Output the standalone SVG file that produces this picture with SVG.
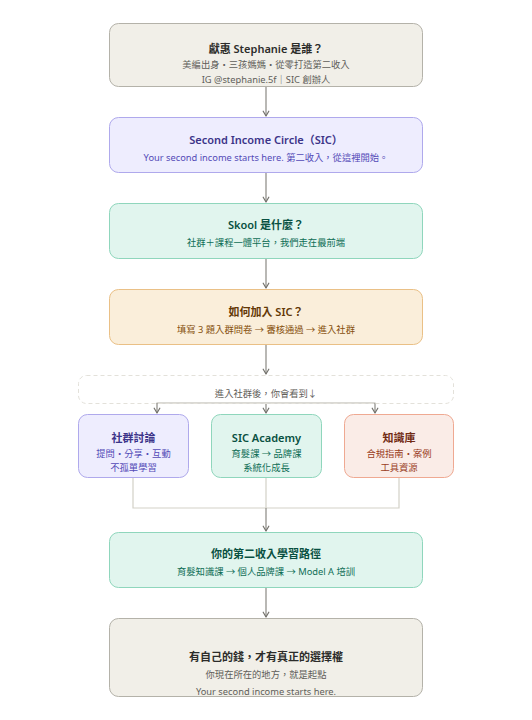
<svg xmlns="http://www.w3.org/2000/svg" width="532" height="720" viewBox="0 0 532 720">
<defs>
<marker id="arr" viewBox="0 0 10 10" refX="8" refY="5" markerWidth="8" markerHeight="8" orient="auto-start-reverse" markerUnits="userSpaceOnUse">
<path d="M2 1.5 L8 5 L2 8.5" fill="none" stroke="#73726c" stroke-width="1.5" stroke-linecap="round" stroke-linejoin="round"/>
</marker>
</defs>
<style>
text{font-family:"Noto Sans","Noto Sans CJK TC",sans-serif;text-anchor:middle;dominant-baseline:central}
.t{font-size:11px;font-weight:600}
.s{font-size:9.3px}
.gray rect{fill:#F1EFE8;stroke:#B4B2A9}
.gray .t{fill:#2C2C2A}.gray .s{fill:#5F5E5A}
.purple rect{fill:#EEEDFE;stroke:#AFA9EC}
.purple .t{fill:#3C3489}.purple .s{fill:#534AB7}
.teal rect{fill:#E1F5EE;stroke:#8FD6BC}
.teal .t{fill:#085041}.teal .s{fill:#0F6E56}
.amber rect{fill:#FAEEDA;stroke:#EAC086}
.amber .t{fill:#633806}.amber .s{fill:#854F0B}
.coral rect{fill:#FAECE7;stroke:#EFA992}
.coral .t{fill:#712B13}.coral .s{fill:#993C1D}
rect{stroke-width:1}
.c{stroke:#8a8983;stroke-width:1.2;fill:none}
.l{stroke:#D3D1C7;stroke-width:1.2;fill:none}
</style>
<rect width="532" height="720" fill="#ffffff"/>
<g id="connectors">
<line class="c" x1="266" y1="87" x2="266" y2="116" marker-end="url(#arr)"/>
<line class="c" x1="266" y1="172" x2="266" y2="202" marker-end="url(#arr)"/>
<line class="c" x1="266" y1="258" x2="266" y2="288" marker-end="url(#arr)"/>
<line class="c" x1="266" y1="344" x2="266" y2="374" marker-end="url(#arr)"/>
<line x1="156.5" y1="403" x2="375.5" y2="403" stroke="#B4B2A9" stroke-width="1"/>
<line class="c" x1="157" y1="403" x2="157" y2="413" marker-end="url(#arr)"/>
<line class="c" x1="266" y1="403" x2="266" y2="413" marker-end="url(#arr)"/>
<line class="c" x1="375" y1="403" x2="375" y2="413" marker-end="url(#arr)"/>
<path class="l" d="M133 477 V508 H399 V477 M266 477 V508"/>
<line class="c" x1="266" y1="508" x2="266" y2="531" marker-end="url(#arr)"/>
<line class="c" x1="266" y1="587" x2="266" y2="617" marker-end="url(#arr)"/>
</g>
<g id="who" class="gray">
<rect x="109.5" y="23.5" width="313" height="63" rx="9"/>
<text class="t" x="266" y="48">獻惠 Stephanie 是誰？</text>
<text class="s" x="266" y="64.5">美編出身・三孩媽媽・從零打造第二收入</text>
<text class="s" x="266" y="79.5">IG @stephanie.5f｜SIC 創辦人</text>
</g>
<g id="sic" class="purple">
<rect x="109.5" y="117.5" width="313" height="55" rx="9"/>
<text class="t" x="266" y="139">Second Income Circle（SIC）</text>
<text class="s" x="266" y="157">Your second income starts here. 第二收入，從這裡開始。</text>
</g>
<g id="skool" class="teal">
<rect x="109.5" y="203.5" width="313" height="55" rx="9"/>
<text class="t" x="266" y="224.5">Skool 是什麼？</text>
<text class="s" x="266" y="242.5">社群＋課程一體平台，我們走在最前端</text>
</g>
<g id="join" class="amber">
<rect x="109.5" y="289.5" width="313" height="55" rx="9"/>
<text class="t" x="266" y="311">如何加入 SIC？</text>
<text class="s" x="266" y="329">填寫 3 題入群問卷 → 審核通過 → 進入社群</text>
</g>
<g id="inside">
<rect x="78.5" y="375.5" width="375" height="28" rx="8" fill="none" stroke="#E3E1DA" stroke-dasharray="4 3"/>
<text class="s" x="266" y="393" fill="#5F5E5A">進入社群後，你會看到↓</text>
</g>
<g id="discuss" class="purple">
<rect x="78.5" y="414.5" width="110" height="63" rx="9"/>
<text class="t" x="133.5" y="437">社群討論</text>
<text class="s" x="133.5" y="453">提問・分享・互動</text>
<text class="s" x="133.5" y="467.5">不孤單學習</text>
</g>
<g id="academy" class="teal">
<rect x="211.5" y="414.5" width="110" height="63" rx="9"/>
<text class="t" x="266.5" y="437">SIC Academy</text>
<text class="s" x="266.5" y="453">育髮課 → 品牌課</text>
<text class="s" x="266.5" y="467.5">系統化成長</text>
</g>
<g id="library" class="coral">
<rect x="344.5" y="414.5" width="109" height="63" rx="9"/>
<text class="t" x="399" y="437">知識庫</text>
<text class="s" x="399" y="453">合規指南・案例</text>
<text class="s" x="399" y="467.5">工具資源</text>
</g>
<g id="path" class="teal">
<rect x="109.5" y="532.5" width="313" height="55" rx="9"/>
<text class="t" x="266" y="553.5">你的第二收入學習路徑</text>
<text class="s" x="266" y="571.5">育髮知識課 → 個人品牌課 → Model A 培訓</text>
</g>
<g id="money" class="gray">
<rect x="109.5" y="618.5" width="313" height="78" rx="9"/>
<text class="t" x="266" y="656.5">有自己的錢，才有真正的選擇權</text>
<text class="s" x="266" y="674.5">你現在所在的地方，就是起點</text>
<text class="s" x="266" y="691" fill="#73726c">Your second income starts here.</text>
</g>
</svg>
